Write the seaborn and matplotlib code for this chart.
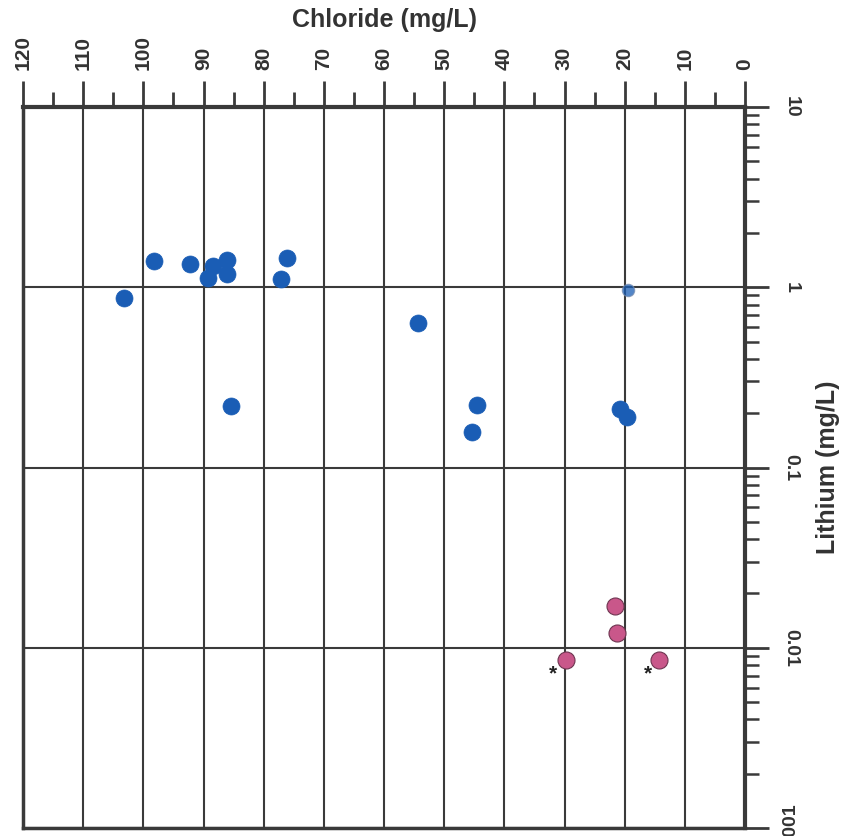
import numpy as np
import pandas as pd
import matplotlib
matplotlib.use("Agg")
import matplotlib.pyplot as plt
import matplotlib.ticker as mticker
import seaborn as sns

# --------------------------------------------------------------------
# Data (chloride mg/L, lithium mg/L)
# --------------------------------------------------------------------

blue_chloride = [103.2, 98.2, 92.2, 88.4, 89.2, 86.1, 86.1, 85.4, 77.1, 76.1,
                 54.3, 45.4, 44.5, 20.8, 19.6]
blue_lithium = [0.87, 1.39, 1.34, 1.31, 1.12, 1.41, 1.18, 0.22, 1.11, 1.45,
                0.63, 0.158, 0.223, 0.212, 0.19]

faint_chloride = [19.4]
faint_lithium = [0.97]

pink_chloride = [21.6, 21.3, 29.7, 14.3]
pink_lithium = [0.017, 0.0121, 0.0085, 0.0085]

star_chloride = [31.9, 16.1]
star_lithium = [0.0072, 0.0072]

x_ticks = list(range(0, 121, 10))
y_ticks = [0.001, 0.01, 0.1, 1, 10]
y_tick_labels = ["0.001", "0.01", "0.1", "1", "10"]

BLUE = "#1a5db5"
PINK = "#c9578a"
INK = "#3a3a3a"
TEXT = "#333333"

df_blue = pd.DataFrame({"chloride": blue_chloride, "lithium": blue_lithium})
df_pink = pd.DataFrame({"chloride": pink_chloride, "lithium": pink_lithium})
df_faint = pd.DataFrame({"chloride": faint_chloride, "lithium": faint_lithium})

sns.set_style("white")
plt.rcParams["font.family"] = ["Liberation Sans", "DejaVu Sans"]

fig = plt.figure(figsize=(8.42, 8.36), dpi=100)
ax = fig.add_axes([23 / 842, 1 - 828 / 836, (745 - 23) / 842, (828 - 107) / 836])

ax.set_yscale("log")
ax.set_xlim(120, 0)
ax.set_ylim(0.001, 10)

# grid
for xv in x_ticks:
    ax.axvline(xv, color=INK, lw=1.5, zorder=1)
for yv in y_ticks:
    ax.axhline(yv, color=INK, lw=1.5, zorder=1)

sns.scatterplot(data=df_blue, x="chloride", y="lithium", color=BLUE, s=150,
                edgecolor=BLUE, linewidth=0.5, ax=ax, zorder=3)
sns.scatterplot(data=df_faint, x="chloride", y="lithium", color=BLUE, s=80,
                alpha=0.75, edgecolor="#7a8fb0", linewidth=0.8, ax=ax, zorder=3)
sns.scatterplot(data=df_pink, x="chloride", y="lithium", color=PINK, s=150,
                edgecolor="#6e3550", linewidth=0.8, ax=ax, zorder=3)

for cx, ly in zip(star_chloride, star_lithium):
    ax.text(cx, ly, "*", ha="center", va="center", fontsize=15,
            fontweight="bold", color="#222222", zorder=4)

# x axis on top
ax.xaxis.tick_top()
ax.xaxis.set_label_position("top")
ax.set_xticks(x_ticks)
ax.set_xticklabels([str(v) for v in x_ticks], rotation=90, fontsize=15,
                   fontweight="bold", color=TEXT)
ax.xaxis.set_minor_locator(mticker.MultipleLocator(5))
ax.tick_params(axis="x", which="major", direction="out", length=19, width=2,
               color=INK, pad=8, top=True, bottom=False)
ax.tick_params(axis="x", which="minor", direction="out", length=11, width=2,
               color=INK, top=True, bottom=False)
ax.set_xlabel("Chloride (mg/L)", fontsize=18, fontweight="bold",
              color=TEXT, labelpad=5.5)

# y axis on right
ax.yaxis.tick_right()
ax.yaxis.set_label_position("right")
ax.set_yticks(y_ticks)
ax.set_yticklabels(y_tick_labels, rotation=-90, va="center", fontsize=14,
                   fontweight="bold", color=TEXT)
# the bottom label in the scan reads the other way
ax.get_yticklabels()[0].set_rotation(90)
ax.yaxis.set_minor_locator(mticker.LogLocator(base=10, subs=np.arange(2, 10)))
ax.yaxis.set_minor_formatter(mticker.NullFormatter())
ax.tick_params(axis="y", which="major", direction="out", length=17, width=2,
               color=INK, pad=10, right=True, left=False)
ax.tick_params(axis="y", which="minor", direction="out", length=10, width=1.8,
               color=INK, right=True, left=False)
ax.set_ylabel("Lithium (mg/L)", fontsize=18, fontweight="bold",
              color=TEXT, rotation=90, labelpad=12)

for side, lw in [("top", 3), ("right", 3), ("left", 2.5), ("bottom", 2.5)]:
    ax.spines[side].set_visible(True)
    ax.spines[side].set_linewidth(lw)
    ax.spines[side].set_color(INK)

fig.savefig("out.png", dpi=100)
